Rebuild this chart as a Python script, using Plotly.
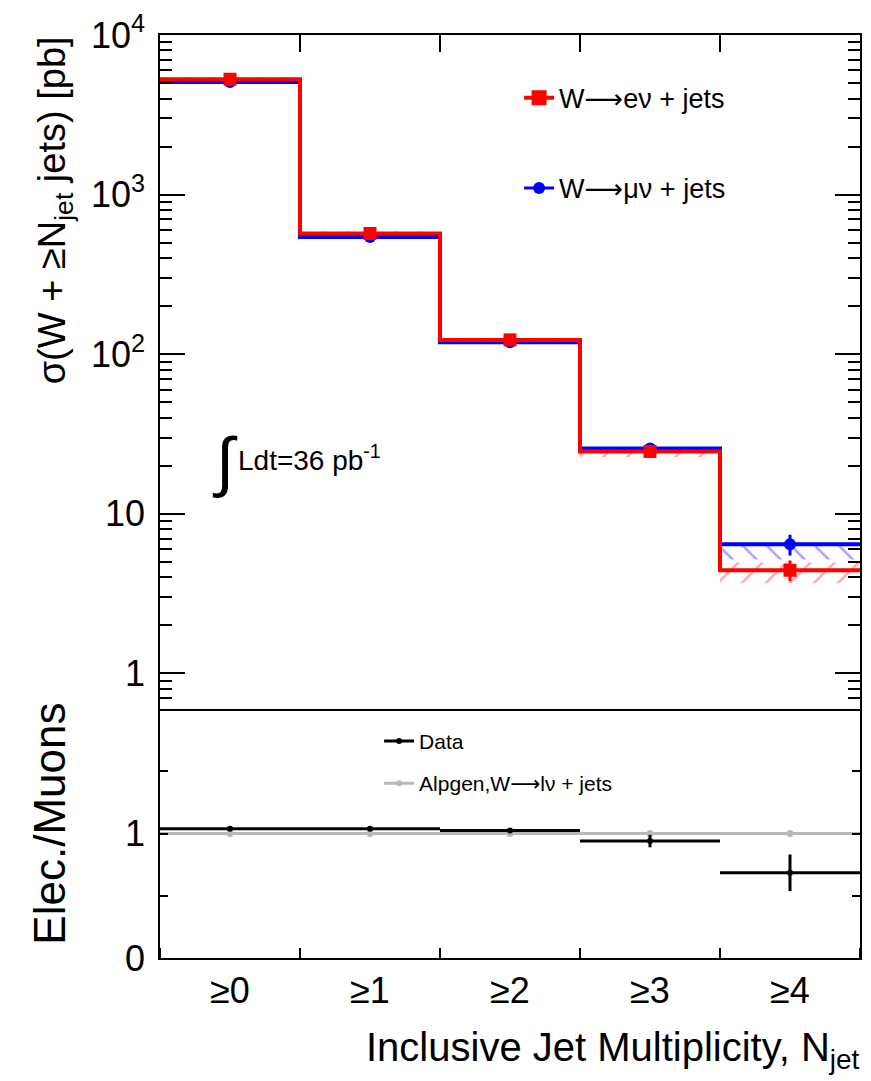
import plotly.graph_objects as go

# ---------------- data ----------------
bin_labels = ["≥0", "≥1", "≥2", "≥3", "≥4"]
bin_edges = [0, 1, 2, 3, 4, 5]

el_xsec = [5280, 570, 123, 24.6, 4.44]
el_err = [150, 15, 4, 1.2, 0.66]
el_band_lo = [5150, 556, 120, 22.6, 3.67]
el_band_hi = [5450, 588, 127, 25.0, 4.96]

mu_xsec = [5080, 543, 119, 25.7, 6.44]
mu_err = [120, 12, 3, 1.0, 0.95]
mu_band_lo = [4960, 532, 116.5, 24.8, 5.18]
mu_band_hi = [5080, 543, 119, 25.7, 6.44]

ratio_data = [1.038, 1.038, 1.025, 0.94, 0.685]
ratio_err = [0.012, 0.012, 0.015, 0.05, 0.147]
ratio_alpgen = [1.0, 1.0, 1.0, 1.0, 1.0]

y_tick_vals = [1, 10, 100, 1000, 10000]
y_tick_text = ["1", "10", "10<sup>2</sup>", "10<sup>3</sup>", "10<sup>4</sup>"]
ratio_tick_vals = [0, 1]
ratio_tick_text = ["0", "1"]
ratio_minor_vals = [0.5, 1.5, 2]

# ---------------- derived ----------------
centers = [(a + b) / 2 for a, b in zip(bin_edges[:-1], bin_edges[1:])]
half_w = [(b - a) / 2 for a, b in zip(bin_edges[:-1], bin_edges[1:])]


def step(vals):
    return list(vals) + [vals[-1]]


minor_log = [m * 10 ** d for d in range(-1, 4) for m in range(2, 10)]

RED = "rgb(255,0,0)"
BLUE = "rgb(0,0,255)"
GRAY = "rgb(185,185,185)"
FONT = "Liberation Sans, Arial, sans-serif"
ARROW = "<span style='font-family:DejaVu Sans'>⟶</span>"

fig = go.Figure()

# hatched uncertainty bands (top panel)
for lo, hi, col, pat in [(mu_band_lo, mu_band_hi, "rgba(0,0,255,0.75)", "\\"),
                         (el_band_lo, el_band_hi, "rgba(255,0,0,0.7)", "/")]:
    fig.add_trace(go.Scatter(x=bin_edges, y=step(lo), mode="lines", line_shape="hv",
                             line=dict(width=0), showlegend=False, hoverinfo="skip",
                             xaxis="x2", yaxis="y2"))
    fig.add_trace(go.Scatter(x=bin_edges, y=step(hi), mode="lines", line_shape="hv",
                             line=dict(width=0), fill="tonexty",
                             fillcolor="rgba(0,0,0,0)",
                             fillpattern=dict(shape=pat, fgcolor=col, bgcolor="rgba(0,0,0,0)",
                                              size=17, solidity=0.14),
                             showlegend=False, hoverinfo="skip", xaxis="x2", yaxis="y2"))

# step histograms
fig.add_trace(go.Scatter(x=bin_edges, y=step(mu_xsec), mode="lines", line_shape="hv",
                         line=dict(color=BLUE, width=4), showlegend=False,
                         xaxis="x2", yaxis="y2"))
fig.add_trace(go.Scatter(x=bin_edges, y=step(el_xsec), mode="lines", line_shape="hv",
                         line=dict(color=RED, width=4), showlegend=False,
                         xaxis="x2", yaxis="y2"))

# data points
fig.add_trace(go.Scatter(x=centers, y=mu_xsec, mode="markers",
                         marker=dict(symbol="circle", size=12, color=BLUE),
                         error_y=dict(type="data", array=mu_err, color=BLUE, thickness=3, width=0),
                         showlegend=False, xaxis="x2", yaxis="y2"))
fig.add_trace(go.Scatter(x=centers, y=el_xsec, mode="markers",
                         marker=dict(symbol="square", size=13, color=RED),
                         error_y=dict(type="data", array=el_err, color=RED, thickness=3, width=0),
                         showlegend=False, xaxis="x2", yaxis="y2"))

# legend entries (top)
fig.add_trace(go.Scatter(x=[None], y=[None], mode="lines+markers", name="W" + ARROW + "eν + jets",
                         line=dict(color=RED, width=4),
                         marker=dict(symbol="square", size=15, color=RED),
                         legend="legend", legendgroup="e", xaxis="x2", yaxis="y2"))
fig.add_trace(go.Scatter(x=[None], y=[None], mode="lines+markers", name="W" + ARROW + "μν + jets",
                         line=dict(color=BLUE, width=3),
                         marker=dict(symbol="circle", size=12, color=BLUE),
                         legend="legend", legendgroup="m", xaxis="x2", yaxis="y2"))

# ratio panel
fig.add_trace(go.Scatter(x=centers, y=ratio_alpgen, mode="markers",
                         marker=dict(size=7, color=GRAY),
                         error_x=dict(type="data", array=half_w, color=GRAY, thickness=3, width=0),
                         showlegend=False, xaxis="x", yaxis="y"))
fig.add_trace(go.Scatter(x=centers, y=ratio_data, mode="markers",
                         marker=dict(size=6, color="black"),
                         error_x=dict(type="data", array=half_w, color="black", thickness=3, width=0),
                         error_y=dict(type="data", array=ratio_err, color="black", thickness=3, width=0),
                         showlegend=False, xaxis="x", yaxis="y"))
fig.add_trace(go.Scatter(x=[None], y=[None], mode="lines+markers", name="Data",
                         line=dict(color="black", width=3), marker=dict(size=6, color="black"),
                         legend="legend2", legendgroup="d", xaxis="x", yaxis="y"))
fig.add_trace(go.Scatter(x=[None], y=[None], mode="lines+markers",
                         name="Alpgen,W" + ARROW + "lν + jets",
                         line=dict(color=GRAY, width=3), marker=dict(size=6, color=GRAY),
                         legend="legend2", legendgroup="a", xaxis="x", yaxis="y"))

split = 251 / 931
axis_common = dict(showline=True, linecolor="black", linewidth=1.5, showgrid=False,
                   zeroline=False, tickcolor="black", tickwidth=1.5)

fig.update_layout(
    width=871, height=1081,
    margin=dict(l=160, r=9, t=27, b=123),
    plot_bgcolor="white", paper_bgcolor="white",
    font=dict(family=FONT, color="black"),
    # lower panel x axis (bottom, with labels)
    xaxis=dict(domain=[0, 1], anchor="y", range=[0, 5], tickvals=centers, ticktext=bin_labels,
               ticks="", tickfont=dict(size=36), mirror=False, ticklabelstandoff=0,
               minor=dict(tickmode="array", tickvals=bin_edges, ticks="inside", ticklen=10,
                          tickcolor="black", tickwidth=1.5, showgrid=False),
               **axis_common),
    # ticks at the top edge of the lower panel (pointing down)
    xaxis3=dict(anchor="y", overlaying="x", side="top", range=[0, 5], matches="x",
                showticklabels=False, tickvals=bin_edges, ticks="inside", ticklen=10,
                tickcolor="black", tickwidth=1.5, showline=False, showgrid=False, zeroline=False),
    yaxis=dict(domain=[0, split], anchor="x", range=[0, 2], tickvals=ratio_tick_vals,
               ticktext=ratio_tick_text, ticks="inside", ticklen=8, mirror="ticks",
               tickfont=dict(size=36), ticklabelstandoff=6,
               minor=dict(tickmode="array", tickvals=ratio_minor_vals, ticks="inside", ticklen=8,
                          tickcolor="black", tickwidth=1.5, showgrid=False),
               **axis_common),
    # upper panel x axis (top ticks, line on both sides)
    xaxis2=dict(domain=[0, 1], anchor="y2", side="top", range=[0, 5], matches="x",
                showticklabels=False, tickvals=bin_edges, ticks="inside", ticklen=17,
                mirror=True, **axis_common),
    yaxis2=dict(domain=[split, 1], anchor="x2", type="log", range=[-0.2236, 4],
                tickvals=y_tick_vals, ticktext=y_tick_text, ticks="inside", ticklen=25,
                mirror="ticks", tickfont=dict(size=36), ticklabelstandoff=6,
                minor=dict(tickmode="array", tickvals=minor_log, ticks="inside", ticklen=12,
                           tickcolor="black", tickwidth=1.5, showgrid=False),
                **axis_common),
    legend=dict(x=0.513, y=0.958, xanchor="left", yanchor="top", bgcolor="rgba(0,0,0,0)",
                font=dict(size=27, family=FONT), tracegroupgap=52, itemwidth=30),
    legend2=dict(x=0.313, y=0.257, xanchor="left", yanchor="top", bgcolor="rgba(0,0,0,0)",
                 font=dict(size=21, family=FONT), tracegroupgap=12, itemwidth=30),
    annotations=[
        dict(text="σ(W + ≥N<sub>jet</sub> jets) [pb]", xref="paper", yref="paper",
             x=-0.15, y=0.81, textangle=-90, showarrow=False, font=dict(size=38),
             xanchor="center", yanchor="middle"),
        dict(text="Elec./Muons", xref="paper", yref="paper", x=-0.158, y=0.146,
             textangle=-90, showarrow=False, font=dict(size=44),
             xanchor="center", yanchor="middle"),
        dict(text="Inclusive Jet Multiplicity, N<sub>jet</sub>", xref="paper", yref="paper",
             x=1.003, y=-0.1, xanchor="right", yanchor="middle", showarrow=False,
             font=dict(size=40)),
        dict(text="∫", xref="paper", yref="paper", x=0.093, y=0.538, showarrow=False,
             font=dict(size=66), xanchor="center", yanchor="middle"),
        dict(text="Ldt=36 pb<sup>-1</sup>", xref="paper", yref="paper", x=0.108, y=0.542,
             xanchor="left", yanchor="middle", showarrow=False, font=dict(size=28)),
    ],
)

fig.write_html("out.html")
